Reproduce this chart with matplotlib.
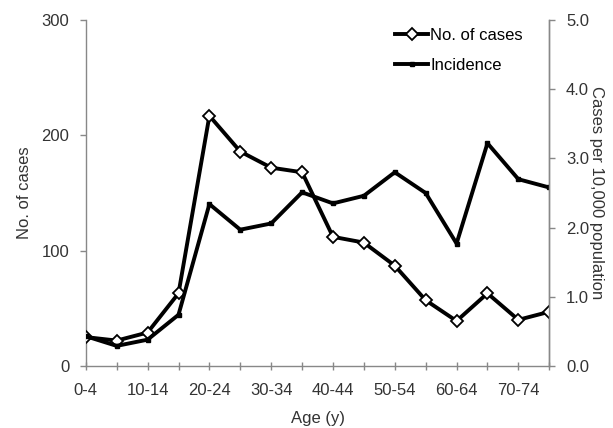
import numpy as np
import matplotlib
matplotlib.use("Agg")
import matplotlib.pyplot as plt

plt.rcParams['font.family'] = ['Liberation Sans', 'DejaVu Sans']

ages = ['0-4', '5-9', '10-14', '15-19', '20-24', '25-29', '30-34', '35-39',
        '40-44', '45-49', '50-54', '55-59', '60-64', '65-69', '70-74', '75+']
cases = [25, 22, 29, 63, 217, 186, 172, 168, 112, 107, 87, 57, 39, 63, 40, 47]
incidence = [0.43, 0.29, 0.38, 0.74, 2.34, 1.97, 2.06, 2.51, 2.35, 2.46,
             2.80, 2.50, 1.77, 3.22, 2.70, 2.58]

gray = '#888888'
txt = '#333333'
fs = 12

fig = plt.figure(figsize=(6.13, 4.28), dpi=100)
ax = fig.add_axes([0.140, 0.145, 0.756, 0.808])
ax2 = ax.twinx()

x = np.arange(len(ages))
l1, = ax.plot(x, cases, '-', color='black', lw=2.8, marker='D', ms=6.5,
              mfc='white', mec='black', mew=1.3, label='No. of cases', zorder=3)
l2, = ax2.plot(x, incidence, '-', color='black', lw=2.8, marker='s', ms=3.5,
               mfc='black', mec='black', label='Incidence')

ax.set_xlim(0, len(ages) - 1)
ax.set_ylim(0, 300)
ax.set_yticks([0, 100, 200, 300])
ax2.set_ylim(0, 5.0)
ax2.set_yticks(np.arange(0, 5.01, 1.0))
ax2.set_yticklabels(['%.1f' % v for v in np.arange(0, 5.01, 1.0)])

ax.set_xticks(x)
ax.set_xticklabels([a if i % 2 == 0 else '' for i, a in enumerate(ages)])

for a in (ax, ax2):
    a.spines['top'].set_visible(False)
    for s in ('left', 'right', 'bottom'):
        a.spines[s].set_color(gray)
        a.spines[s].set_linewidth(1.0)
    a.tick_params(colors=gray, labelcolor=txt, labelsize=fs, length=4, width=1,
                  pad=8)
ax.tick_params(axis='x', direction='inout', length=6, pad=9)
ax2.spines['left'].set_visible(False)
ax2.spines['bottom'].set_visible(False)

ax.set_xlabel('Age (y)', fontsize=fs, color=txt, labelpad=10)
ax.set_ylabel('No. of cases', fontsize=fs, color=txt, labelpad=7)
ax2.set_ylabel('Cases per 10,000 population', fontsize=fs, color=txt,
               rotation=270, labelpad=11)

ax2.legend([l1, l2], ['No. of cases', 'Incidence'], loc='upper right',
           bbox_to_anchor=(0.975, 1.02), frameon=False, fontsize=fs,
           handlelength=2.0, handletextpad=0.1, labelspacing=0.9)

fig.savefig('out.png', dpi=100)
